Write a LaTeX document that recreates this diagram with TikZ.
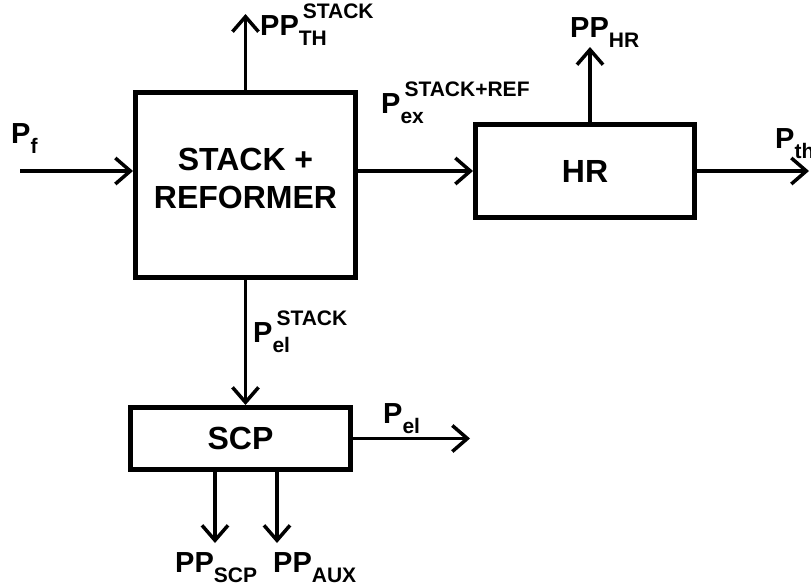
\documentclass[tikz,border=0pt]{standalone}
\usepackage{fontspec}
\setmainfont{Liberation Sans}
\usetikzlibrary{arrows.meta,positioning}

% power label: main letters, subscript, superscript
\newcommand{\subfnt}{\fontsize{21}{21}\selectfont}
\newcommand{\pwr}[3]{#1%
  \sbox0{\subfnt#2}\sbox2{\subfnt#3}%
  \rlap{\raisebox{-10pt}{\usebox0}}\rlap{\hspace{4pt}\raisebox{17pt}{\usebox2}}%
  \hspace{\ifdim\wd0>\wd2 \wd0\else\dimexpr\wd2+4pt\relax\fi}}

\begin{document}
\begin{tikzpicture}[x=1pt,y=-1pt,>={Straight Barb[length=15pt,width=26pt]},
  font=\bfseries\fontsize{29}{35}\selectfont,
  blk/.style={draw,line width=5pt,inner sep=0pt,align=center,font=\bfseries\fontsize{32}{38}\selectfont},
  flow/.style={->,line width=3.5pt},
  lbl/.style={anchor=base west,inner sep=0pt}]
  \useasboundingbox (0,0) rectangle (811,582);

  % blocks
  \node[blk,minimum width=220pt,minimum height=184.5pt,text depth=12pt] (stack) at (245.5,184.75) {STACK +\\REFORMER};
  \node[blk,minimum width=219pt,minimum height=93pt] (hr) at (585,171) {HR};
  \node[blk,minimum width=220pt,minimum height=62pt] (scp) at (240.5,438.5) {SCP};

  % free ends
  \coordinate (pfin) at (20,171);
  \coordinate (ppth) at (245.5,14);
  \coordinate (pphr) at (590,47);
  \coordinate (pthout) at (809,171);
  \coordinate (pelout) at (470,438.5);
  \coordinate (ppscp) at (215,543);
  \coordinate (ppaux) at (277,543);

  % flows
  \draw[flow] (pfin) -- (pfin -| stack.west);
  \draw[flow] (stack.north) -- (ppth);
  \draw[flow] (stack.east |- hr.west) -- (hr.west);
  \draw[flow] (hr.north -| pphr) -- (pphr);
  \draw[flow] (hr.east) -- (pthout);
  \draw[flow] (stack.south) -- (stack.south |- scp.north);
  \draw[flow] (scp.east) -- (pelout);
  \draw[flow] (scp.south -| ppscp) -- (ppscp);
  \draw[flow] (scp.south -| ppaux) -- (ppaux);

  % labels
  \node[lbl] (lpf) at (11,143) {\pwr{P}{f}{}};
  \node[lbl] (lppth) at (260,35) {\pwr{PP}{TH}{STACK}};
  \node[lbl] (lpex) at (381,113) {\pwr{P}{ex}{STACK+REF}};
  \node[lbl] (lpphr) at (570,37) {\pwr{PP}{HR}{}};
  \node[lbl] (lpth) at (775,148) {\pwr{P}{th}{}};
  \node[lbl] (lpelst) at (253,342) {\pwr{P}{el}{STACK}};
  \node[lbl] (lpel) at (383,423) {\pwr{P}{el}{}};
  \node[lbl] (lppscp) at (175,572) {\pwr{PP}{SCP}{}};
  \node[lbl] (lppaux) at (273,572) {\pwr{PP}{AUX}{}};
\end{tikzpicture}
\end{document}
